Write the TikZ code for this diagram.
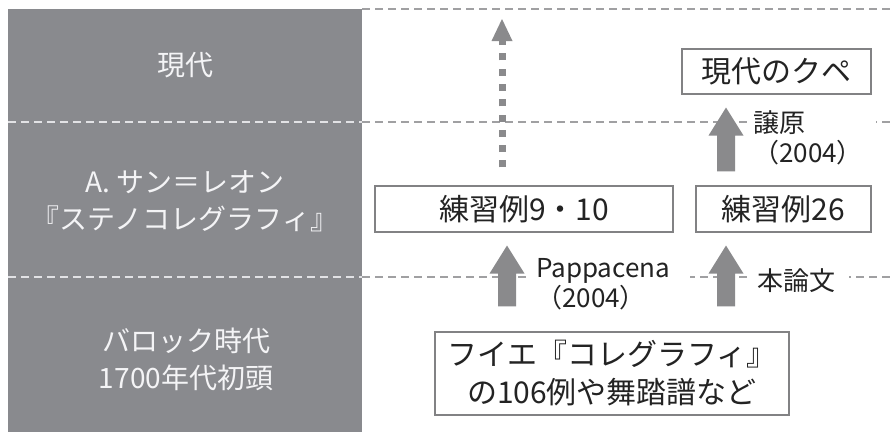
\documentclass[tikz,border=0pt]{standalone}
\usepackage{fontspec}
\setmainfont{Noto Sans CJK JP}
\usetikzlibrary{calc}
\definecolor{panelgray}{RGB}{137,138,142}
\definecolor{arrowgray}{RGB}{138,138,140}
\definecolor{dashgray}{RGB}{160,160,162}
\definecolor{dashlight}{RGB}{226,226,229}
\definecolor{boxline}{RGB}{130,130,132}
\definecolor{textdark}{RGB}{35,35,35}
\definecolor{eratext}{RGB}{244,244,246}
\begin{document}
\begin{tikzpicture}[x=1pt,y=-1pt,
  era/.style={text=eratext, align=center, inner sep=0pt, font=\fontsize{28}{37}\selectfont},
  box/.style={draw=boxline, line width=1.1pt, fill=white, inner sep=0pt, align=center, text=textdark, font=\fontsize{30}{38}\selectfont},
  note/.style={fill=white, anchor=west, inner xsep=6pt, inner ysep=1pt, align=left, text=textdark, font=\fontsize{26}{30}\selectfont},
  gridline/.style={dashgray, line width=1.3pt, dash pattern=on 8pt off 5pt},
  gridlinelight/.style={dashlight, line width=1.3pt, dash pattern=on 8pt off 5pt},
  blockarrow/.style={to path={
    ($(\tikztostart)+(-9pt,0pt)$) -- ($(\tikztotarget)+(-9pt,-28pt)$) -- ($(\tikztotarget)+(-17.5pt,-28pt)$) -- (\tikztotarget) -- ($(\tikztotarget)+(17.5pt,-28pt)$) -- ($(\tikztotarget)+(9pt,-28pt)$) -- ($(\tikztostart)+(9pt,0pt)$) -- cycle}},
  dotshaft/.style={arrowgray, line width=7pt, dash pattern=on 7pt off 8.3pt}
]
\fill[white] (0,0) rectangle (892,432);
\useasboundingbox (0,0) rectangle (892,432);

% era panel
\fill[panelgray] (8,9) rectangle (362,432);

% period separators
\draw[gridline] (362,9) -- (892,9);
\draw[gridlinelight] (8,122) -- (362,122);
\draw[gridline] (362,122) -- (892,122);
\draw[gridlinelight] (8,277) -- (362,277);
\draw[gridline] (362,277) -- (892,277);

% era labels
\node[era] (now) at (185,65) {現代};
\node[era] (stl) at (185,201) {A. サン＝レオン\\『ステノコレグラフィ』};
\node[era] (baroque) at (186,359) {バロック時代\\1700年代初頭};

% boxes
\node[box, minimum width=189pt, minimum height=45pt] (coupe) at (776.5,71.5) {現代のクペ};
\node[box, minimum width=298pt, minimum height=46pt] (r910) at (524,209) {練習例9・10};
\node[box, minimum width=175pt, minimum height=46pt] (r26) at (783.5,209) {練習例26};
\node[box, minimum width=354pt, minimum height=83pt] (feuillet) at (612,373.5) {フイエ『コレグラフィ』\\の106例や舞踏譜など};

% arrow labels
\node[note, text width=148pt] (pap) at (530,284) {Pappacena\\（2004）};
\node[note, text width=86pt] (hon) at (751,281) {本論文};
\node[note, text width=117pt] (joh) at (747,138) {譲原\\（2004）};

% columns
\coordinate (colA) at (502,0);
\coordinate (colP) at (507,0);
\coordinate (colR) at (726,0);
\coordinate (future) at (502,19);

% arrows
\fill[arrowgray] ([yshift=25pt]feuillet.north -| colP) to[blockarrow] ([yshift=-13pt]r910.south -| colP);
\fill[arrowgray] ([yshift=25pt]feuillet.north -| colR) to[blockarrow] ([yshift=-13pt]r26.south -| colR);
\fill[arrowgray] ([yshift=14pt]r26.north -| colR) to[blockarrow] ([yshift=-13pt]coupe.south -| colR);

\draw[dotshaft] ([yshift=18pt]r910.north -| colA) -- ([yshift=-22pt]future);
\fill[arrowgray] (future) -- ([shift={(-10.5pt,-22pt)}]future) -- ([shift={(10.5pt,-22pt)}]future) -- cycle;
\end{tikzpicture}
\end{document}
